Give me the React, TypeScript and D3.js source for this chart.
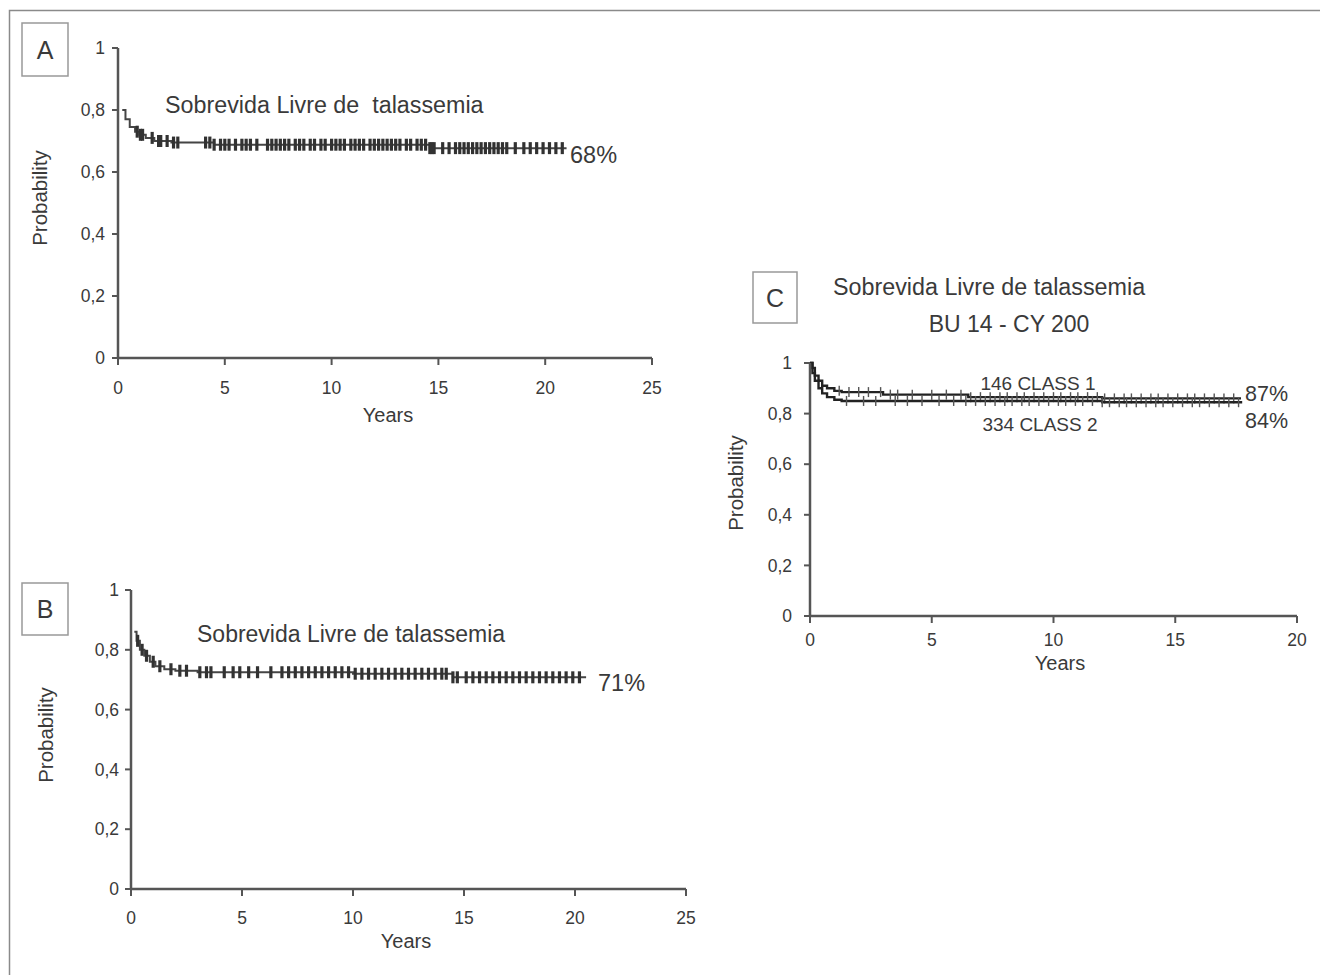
import React from "react";
import * as d3 from "d3";

// ---------- DATA ----------
const yTicks = [0, 0.2, 0.4, 0.6, 0.8, 1];
const yTickLabels = ["0", "0,2", "0,4", "0,6", "0,8", "1"];
const xTicksAB = [0, 5, 10, 15, 20, 25];
const xTicksC = [0, 5, 10, 15, 20];

// Panel A Kaplan-Meier steps
const aTime = [0.2, 0.35, 0.55, 0.8, 1.0, 1.3, 1.7, 2.5, 4.5, 14.6, 21.0];
const aSurv = [0.80, 0.77, 0.745, 0.73, 0.72, 0.71, 0.70, 0.695, 0.688, 0.677, 0.677];
const aCensor = [0.9, 1.05, 1.15, 1.6, 1.9, 2.0, 2.3, 2.6, 2.8, 4.1, 4.3, 4.5, 4.8, 5.0, 5.2, 5.5, 5.8, 6.0, 6.2, 6.5,
  7.0, 7.2, 7.4, 7.6, 7.8, 8.0, 8.3, 8.5, 8.7, 9.0, 9.2, 9.5, 9.7, 10.0, 10.2, 10.4, 10.6, 10.9, 11.1, 11.3, 11.5,
  11.8, 12.0, 12.2, 12.4, 12.6, 12.8, 13.0, 13.2, 13.5, 13.7, 14.0, 14.2, 14.4, 14.6, 14.7, 14.8, 15.2, 15.5, 15.8,
  16.0, 16.2, 16.4, 16.6, 16.8, 17.0, 17.2, 17.4, 17.6, 17.8, 18.0, 18.2, 18.6, 19.0, 19.3, 19.6, 19.9, 20.2, 20.5, 20.8];

// Panel B Kaplan-Meier steps
const bTime = [0.15, 0.25, 0.4, 0.6, 0.85, 1.1, 1.5, 2.0, 3.0, 10.0, 14.5, 20.5];
const bSurv = [0.86, 0.83, 0.80, 0.78, 0.76, 0.745, 0.735, 0.73, 0.725, 0.72, 0.708, 0.708];
const bCensor = [0.3, 0.5, 0.7, 1.0, 1.3, 1.8, 2.2, 2.5, 3.1, 3.4, 3.6, 4.2, 4.6, 4.9, 5.3, 5.7, 6.3, 6.8, 7.1,
  7.4, 7.7, 8.0, 8.3, 8.6, 8.9, 9.2, 9.5, 9.8, 10.1, 10.4, 10.7, 11.0, 11.3, 11.6, 11.9, 12.2, 12.5, 12.8, 13.1,
  13.4, 13.7, 14.0, 14.2, 14.5, 14.7, 15.1, 15.4, 15.7, 16.0, 16.3, 16.6, 16.9, 17.2, 17.5, 17.8, 18.1, 18.4,
  18.7, 19.0, 19.3, 19.6, 19.9, 20.2];

// Panel C two classes
const c1Time = [0, 0.1, 0.2, 0.35, 0.5, 0.7, 1.0, 1.3, 3.0, 6.5, 12.0, 17.7];
const c1Surv = [1, 0.98, 0.95, 0.93, 0.91, 0.90, 0.89, 0.885, 0.875, 0.865, 0.86, 0.86];
const c2Time = [0, 0.1, 0.2, 0.35, 0.5, 0.7, 1.0, 1.3, 5.5, 12.0, 17.7];
const c2Surv = [1, 0.96, 0.93, 0.90, 0.88, 0.865, 0.855, 0.85, 0.85, 0.845, 0.84];
const c1Censor = [1.2, 1.6, 2.0, 2.4, 2.9, 3.3, 3.6, 4.2, 5.0, 5.6, 6.2, 6.6, 7.0, 7.4, 7.8, 8.1, 8.5, 8.8, 9.2, 9.6,
  10.0, 10.3, 10.7, 11.0, 11.4, 11.8, 12.1, 12.5, 12.9, 13.2, 13.6, 14.0, 14.3, 14.7, 15.1, 15.5, 15.8, 16.2, 16.6, 17.0, 17.4];
const c2Censor = [1.5, 2.2, 2.7, 3.5, 4.0, 4.6, 5.3, 5.9, 6.4, 6.8, 7.2, 7.6, 8.0, 8.3, 8.7, 9.0, 9.4, 9.8, 10.2, 10.5,
  10.9, 11.2, 11.6, 12.0, 12.3, 12.7, 13.0, 13.4, 13.8, 14.2, 14.5, 14.9, 15.3, 15.7, 16.0, 16.4, 16.8, 17.2, 17.6];

const FONT = "'Liberation Sans', Arial, Helvetica, sans-serif";
const AX = "#555";
const TXT = "#3a3a3a";

function survAt(times: number[], surv: number[], t: number) {
  let v = surv[0];
  for (let i = 0; i < times.length; i++) if (times[i] <= t) v = surv[i];
  return v;
}

type PanelProps = {
  x0: number; x1: number; y0: number; y1: number; xMax: number; xTicks: number[];
  xLabY: number; yearsX: number; yearsY: number; probX: number; probY: number; yLabOff: number;
  children?: (x: d3.ScaleLinear<number, number>, y: d3.ScaleLinear<number, number>) => React.ReactNode;
};

function Axes(p: PanelProps) {
  const x = d3.scaleLinear().domain([0, p.xMax]).range([p.x0, p.x1]);
  const y = d3.scaleLinear().domain([0, 1]).range([p.y0, p.y1]);
  return (
    <g fontFamily={FONT}>
      {p.children && p.children(x, y)}
      <line x1={p.x0} x2={p.x0} y1={p.y0 + 1} y2={p.y1} stroke={AX} strokeWidth={2.5} />
      <line x1={p.x0} x2={p.x1} y1={p.y0} y2={p.y0} stroke={AX} strokeWidth={2.5} />
      {yTicks.map((t, i) => (
        <g key={"y" + t}>
          <line x1={p.x0 - 6} x2={p.x0} y1={y(t)} y2={y(t)} stroke={AX} strokeWidth={2} />
          <text x={p.x0 - p.yLabOff} y={y(t)} dy="0.35em" textAnchor="end" fontSize={17.5} fill={TXT}>{yTickLabels[i]}</text>
        </g>
      ))}
      {p.xTicks.map((t) => (
        <g key={"x" + t}>
          <line x1={x(t)} x2={x(t)} y1={p.y0} y2={p.y0 + 7} stroke={AX} strokeWidth={2} />
          <text x={x(t)} y={p.xLabY} dy="0.35em" textAnchor="middle" fontSize={17.5} fill={TXT}>{t}</text>
        </g>
      ))}
      <text x={p.yearsX} y={p.yearsY} dy="0.35em" textAnchor="middle" fontSize={20} fill={TXT}>Years</text>
      <text transform={`translate(${p.probX},${p.probY}) rotate(-90)`} dy="0.35em" textAnchor="middle" fontSize={20.5} fill={TXT}>Probability</text>
    </g>
  );
}

function KM({ x, y, times, surv, censor, color, width, markH, markW, markColor }: any) {
  const pts: [number, number][] = times.map((t: number, i: number) => [t, surv[i]]);
  const line = d3.line<[number, number]>().x((d) => x(d[0])).y((d) => y(d[1])).curve(d3.curveStepAfter);
  return (
    <g>
      <path d={line(pts) || ""} fill="none" stroke={color} strokeWidth={width} />
      {censor.map((t: number, i: number) => {
        const v = survAt(times, surv, t);
        return <line key={i} x1={x(t)} x2={x(t)} y1={y(v) - markH / 2} y2={y(v) + markH / 2} stroke={markColor} strokeWidth={markW} />;
      })}
    </g>
  );
}

function Box({ x, y, w, h, label }: { x: number; y: number; w: number; h: number; label: string }) {
  return (
    <g>
      <rect x={x} y={y} width={w} height={h} fill="white" stroke="#999" strokeWidth={1.5} />
      <text x={x + w / 2} y={y + h / 2} dy="0.36em" textAnchor="middle" fontFamily={FONT} fontSize={25} fill={TXT}>{label}</text>
    </g>
  );
}

export default function App() {
  return (
    <svg width={1320} height={975} style={{ position: "absolute", left: 0, top: 0, background: "white" }}>
      <defs>
        <filter id="soft" x="-5%" y="-50%" width="110%" height="200%">
          <feGaussianBlur stdDeviation="0.7" />
        </filter>
      </defs>
      <rect x={0} y={0} width={1320} height={975} fill="white" />
      <rect x={9.5} y={10.5} width={1340} height={1000} fill="none" stroke="#8a8a8a" strokeWidth={1.5} />

      {/* Panel A */}
      <Box x={22} y={23} w={46} h={53} label="A" />
      <Axes x0={118} x1={652} y0={358} y1={48} xMax={25} xTicks={xTicksAB} xLabY={388} yearsX={388} yearsY={415} probX={40} probY={198} yLabOff={13}>
        {(x, y) => (
          <g filter="url(#soft)">
            <KM x={x} y={y} times={aTime} surv={aSurv} censor={aCensor} color="#444" width={2} markH={12} markW={3.2} markColor="#333" />
          </g>
        )}
      </Axes>
      <text x={165} y={105} dy="0.35em" fontFamily={FONT} fontSize={23.3} fill={TXT} style={{ whiteSpace: "pre" }}>{"Sobrevida Livre de  talassemia"}</text>
      <text x={570} y={155} dy="0.35em" fontFamily={FONT} fontSize={23.5} fill={TXT}>68%</text>

      {/* Panel B */}
      <Box x={22} y={583} w={46} h={52} label="B" />
      <Axes x0={131} x1={686} y0={889} y1={590} xMax={25} xTicks={xTicksAB} xLabY={918} yearsX={406} yearsY={941} probX={46} probY={735} yLabOff={12}>
        {(x, y) => (
          <g filter="url(#soft)">
            <KM x={x} y={y} times={bTime} surv={bSurv} censor={bCensor} color="#444" width={2} markH={12} markW={3.2} markColor="#333" />
          </g>
        )}
      </Axes>
      <text x={197} y={634} dy="0.35em" fontFamily={FONT} fontSize={23} fill={TXT}>Sobrevida Livre de talassemia</text>
      <text x={598} y={683} dy="0.35em" fontFamily={FONT} fontSize={23.5} fill={TXT}>71%</text>

      {/* Panel C */}
      <Box x={753} y={272} w={44} h={51} label="C" />
      <text x={833} y={287} dy="0.35em" fontFamily={FONT} fontSize={23.3} fill={TXT}>Sobrevida Livre de talassemia</text>
      <text x={1009} y={324} dy="0.35em" textAnchor="middle" fontFamily={FONT} fontSize={23} fill={TXT}>BU 14 - CY 200</text>
      <Axes x0={810} x1={1297} y0={616} y1={363} xMax={20} xTicks={xTicksC} xLabY={640} yearsX={1060} yearsY={663} probX={736} probY={483} yLabOff={18}>
        {(x, y) => (
          <g>
            <KM x={x} y={y} times={c1Time} surv={c1Surv} censor={c1Censor} color="#222" width={2.4} markH={10} markW={1.4} markColor="#555" />
            <KM x={x} y={y} times={c2Time} surv={c2Surv} censor={c2Censor} color="#222" width={2.4} markH={10} markW={1.4} markColor="#555" />
          </g>
        )}
      </Axes>
      <text x={1038} y={383} dy="0.35em" textAnchor="middle" fontFamily={FONT} fontSize={19} fill={TXT}>146 CLASS 1</text>
      <text x={1040} y={424} dy="0.35em" textAnchor="middle" fontFamily={FONT} fontSize={19} fill={TXT}>334 CLASS 2</text>
      <text x={1245} y={393} dy="0.35em" fontFamily={FONT} fontSize={21.5} fill={TXT}>87%</text>
      <text x={1245} y={420} dy="0.35em" fontFamily={FONT} fontSize={21.5} fill={TXT}>84%</text>
    </svg>
  );
}
